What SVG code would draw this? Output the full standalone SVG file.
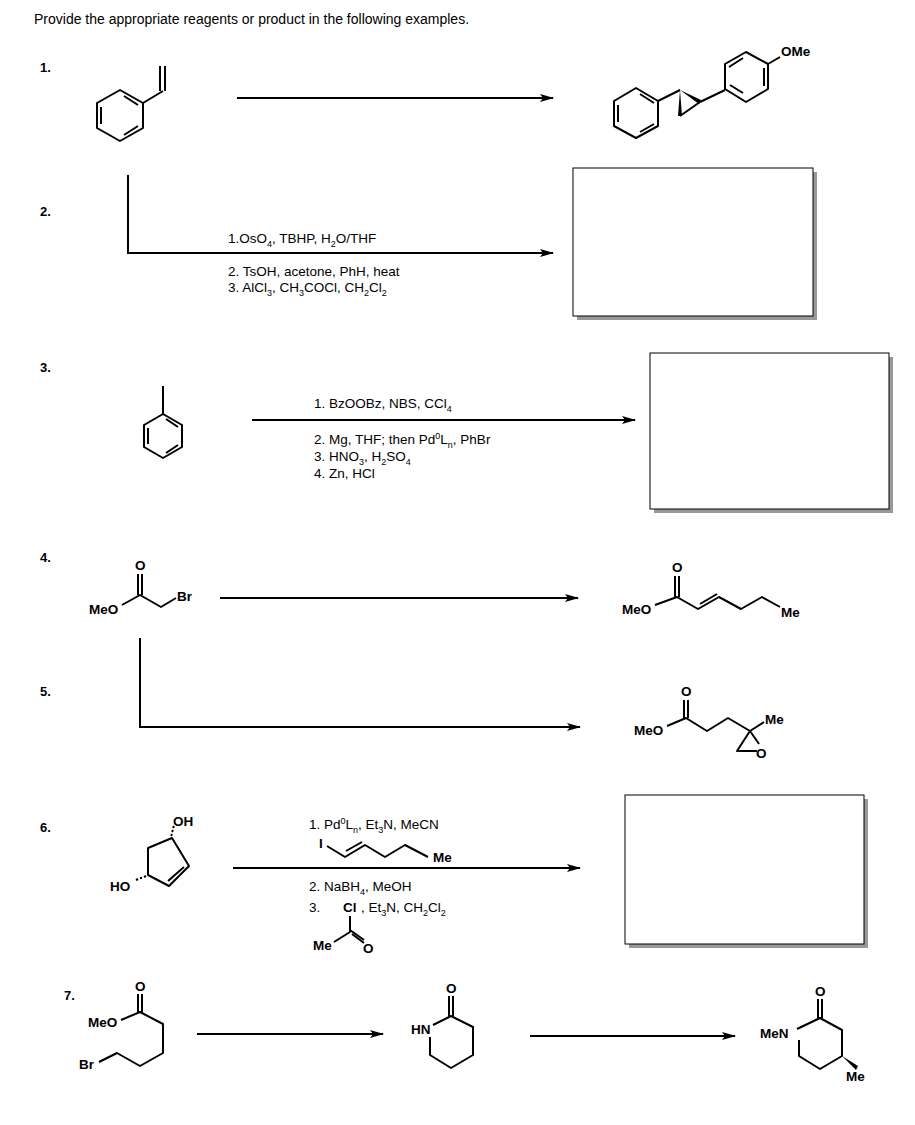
<svg xmlns="http://www.w3.org/2000/svg" width="915" height="1125" viewBox="0 0 915 1125">
<style>
text{font-family:"Liberation Sans",Arial,sans-serif;fill:#000}
.t{font-size:14px}
.n{font-size:13px;font-weight:bold}
.r{font-size:13.5px}
.a{font-size:13.5px;font-weight:bold}
.s{font-size:9px}
.b{stroke:#000;stroke-width:2;fill:none;stroke-linejoin:round}
.arr{stroke:#000;stroke-width:2;fill:none}
.box{fill:#fff;stroke:#000;stroke-width:1}
.sh{fill:#999}
</style>
<defs>
<marker id="ah" markerWidth="14" markerHeight="8" refX="13" refY="4" orient="auto" markerUnits="userSpaceOnUse"><path d="M0,0 L14,4 L0,8 L3,4 Z" fill="#000"/></marker>
</defs>
<rect width="915" height="1125" fill="#fff"/>
<text class="t" x="34" y="24">Provide the appropriate reagents or product in the following examples.</text>
<g id="labels">
<text class="n" x="40" y="72">1.</text>
<text class="n" x="40" y="216">2.</text>
<text class="n" x="40" y="372">3.</text>
<text class="n" x="40" y="562">4.</text>
<text class="n" x="40" y="696">5.</text>
<text class="n" x="40" y="832">6.</text>
<text class="n" x="64" y="1000">7.</text>
</g>
<g id="connectors">
<line class="arr" x1="237" y1="98" x2="553" y2="98" marker-end="url(#ah)"/>
<polyline class="arr" points="128,175 128,253 553,253" marker-end="url(#ah)"/>
<line class="arr" x1="252" y1="420" x2="635" y2="420" marker-end="url(#ah)"/>
<line class="arr" x1="220" y1="598" x2="578" y2="598" marker-end="url(#ah)"/>
<polyline class="arr" points="140,638 140,727 580,727" marker-end="url(#ah)"/>
<line class="arr" x1="233" y1="868" x2="580" y2="868" marker-end="url(#ah)"/>
<line class="arr" x1="197" y1="1034" x2="383" y2="1034" marker-end="url(#ah)"/>
<line class="arr" x1="530" y1="1036" x2="735" y2="1036" marker-end="url(#ah)"/>
</g>
<g id="styrene">
<polygon class="b" points="120,90 143,103 143,128 120,141 97,128 97,103"/>
<path class="b" d="M124,96 L138,105 M101,107 L101,124 M124,135 L138,126"/>
<path class="b" d="M143,103 L163,91 M160,91 L160,66 M165,91 L165,66"/>
</g>
<g id="product1">
<polygon class="b" points="636,88 658,101 658,126 636,138 614,126 614,101"/>
<path class="b" d="M640,94 L654,103 M618,105 L618,122 M640,132 L654,124"/>
<path class="b" d="M658,101 L680,90 M700,102 L725,90"/>
<path d="M680,90 L701,100 L699,104 Z" fill="#000"/>
<path d="M680,90 L678,116 L682,116 Z" fill="#000"/>
<line class="b" x1="680" y1="116" x2="700" y2="102"/>
<polygon class="b" points="746,52 768,64 768,89 746,102 725,89 725,64"/>
<path class="b" d="M729,67 L743,58 M764,68 L764,86 M730,85 L743,93"/>
<path class="b" d="M768,64 L780,57"/>
<text class="a" x="781" y="56">OMe</text>
</g>
<g id="reagents2">
<text class="r" x="228" y="243">1.OsO<tspan class="s" dy="4">4</tspan><tspan dy="-4">, TBHP, H</tspan><tspan class="s" dy="4">2</tspan><tspan dy="-4">O/THF</tspan></text>
<text class="r" x="228" y="276">2. TsOH, acetone, PhH, heat</text>
<text class="r" x="228" y="292">3. AlCl<tspan class="s" dy="4">3</tspan><tspan dy="-4">, CH</tspan><tspan class="s" dy="4">3</tspan><tspan dy="-4">COCl, CH</tspan><tspan class="s" dy="4">2</tspan><tspan dy="-4">Cl</tspan><tspan class="s" dy="4">2</tspan></text>
</g>
<g id="box2"><rect class="sh" x="577" y="172" width="240" height="148"/><rect class="box" x="573" y="168" width="240" height="148"/></g>
<g id="toluene">
<polygon class="b" points="163,414 182,425 182,447 163,458 144,447 144,425"/>
<path class="b" d="M166,419 L178,427 M148,428 L148,444 M166,453 L178,445"/>
<line class="b" x1="163" y1="414" x2="163" y2="386"/>
</g>
<g id="reagents3">
<text class="r" x="314" y="408">1. BzOOBz, NBS, CCl<tspan class="s" dy="4">4</tspan></text>
<text class="r" x="314" y="444">2. Mg, THF; then Pd<tspan class="s" dy="-5">0</tspan><tspan dy="5">L</tspan><tspan class="s" dy="4">n</tspan><tspan dy="-4">, PhBr</tspan></text>
<text class="r" x="314" y="461">3. HNO<tspan class="s" dy="4">3</tspan><tspan dy="-4">, H</tspan><tspan class="s" dy="4">2</tspan><tspan dy="-4">SO</tspan><tspan class="s" dy="4">4</tspan></text>
<text class="r" x="314" y="478">4. Zn, HCl</text>
</g>
<g id="box3"><rect class="sh" x="654" y="357" width="239" height="156"/><rect class="box" x="650" y="353" width="239" height="156"/></g>
<g id="bromoacetate">
<text class="a" x="89" y="614">MeO</text>
<path class="b" d="M122,605 L140,595 L161,607 L176,598 M138,595 L138,574 M142,595 L142,574"/>
<text class="a" x="135" y="570">O</text>
<text class="a" x="177" y="601">Br</text>
</g>
<g id="product4">
<text class="a" x="622" y="614">MeO</text>
<path class="b" d="M655,605 L677,597 L698,609 L719,597 L741,609 L762,597 L780,607 M675,597 L675,576 M679,597 L679,576"/>
<path class="b" d="M700,604 L717,594"/>
<text class="a" x="672" y="572">O</text>
<text class="a" x="781" y="617">Me</text>
</g>
<g id="product5">
<text class="a" x="634" y="735">MeO</text>
<path class="b" d="M667,726 L686,718 L707,731 L728,718 L750,731 L764,722 M684,718 L684,700 M688,718 L688,700 M750,731 L737,751 L757,751 M750,731 L759,744"/>
<text class="a" x="681" y="696">O</text>
<text class="a" x="765" y="724">Me</text>
<text class="a" x="756" y="758">O</text>
</g>
<g id="diol">
<path class="b" d="M172,838 L189,866 L169,886 L148,875 L148,848 Z M184,867 L168,881"/>
<path d="M171,836 L172,834 M172,832 L173,830 M173,828 L174,826" stroke="#000" stroke-width="2"/>
<text class="a" x="173" y="826">OH</text>
<path d="M146,876 L144,877 M142,878 L140,878 M138,879 L136,880" stroke="#000" stroke-width="2"/>
<text class="a" x="110" y="891">HO</text>
</g>
<g id="reagents6">
<text class="r" x="309" y="829">1. Pd<tspan class="s" dy="-5">0</tspan><tspan dy="5">L</tspan><tspan class="s" dy="4">n</tspan><tspan dy="-4">, Et</tspan><tspan class="s" dy="4">3</tspan><tspan dy="-4">N, MeCN</tspan></text>
<text class="a" x="319" y="848">I</text>
<path class="b" d="M327,846 L345,857 L365,845 L385,857 L405,845 L428,857 M346,851 L362,842"/>
<text class="a" x="433" y="862">Me</text>
<text class="r" x="309" y="891">2. NaBH<tspan class="s" dy="4">4</tspan><tspan dy="-4">, MeOH</tspan></text>
<text class="r" x="309" y="912">3.</text>
<text class="a" x="343" y="912">Cl</text>
<text class="r" x="361" y="912">, Et<tspan class="s" dy="4">3</tspan><tspan dy="-4">N, CH</tspan><tspan class="s" dy="4">2</tspan><tspan dy="-4">Cl</tspan><tspan class="s" dy="4">2</tspan></text>
<path class="b" d="M350,916 L350,932 L334,942 M350,930 L364,940 M352,934 L364,943"/>
<text class="a" x="313" y="950">Me</text>
<text class="a" x="363" y="953">O</text>
</g>
<g id="box6"><rect class="sh" x="629" y="799" width="239" height="149"/><rect class="box" x="625" y="795" width="239" height="149"/></g>
<g id="bromoester">
<text class="a" x="88" y="1027">MeO</text>
<path class="b" d="M121,1020 L140,1012 L163,1024 L163,1053 L140,1066 L117,1053 L99,1062 M138,1012 L138,994 M142,1012 L142,994"/>
<text class="a" x="135" y="991">O</text>
<text class="a" x="79" y="1069">Br</text>
</g>
<g id="lactam">
<path class="b" d="M433,1025 L451,1016 L473,1027 L473,1055 L451,1068 L430,1055 L430,1037 M449,1016 L449,996 M453,1016 L453,996"/>
<text class="a" x="446" y="993">O</text>
<text class="a" x="411" y="1034">HN</text>
</g>
<g id="product7">
<path class="b" d="M797,1029 L820,1018 L842,1030 L842,1056 L820,1069 L799,1056 L799,1040 M818,1018 L818,999 M822,1018 L822,999"/>
<path d="M842,1056 L858,1066 L856,1070 Z" fill="#000"/>
<text class="a" x="815" y="996">O</text>
<text class="a" x="760" y="1038">MeN</text>
<text class="a" x="846" y="1081">Me</text>
</g>
</svg>
